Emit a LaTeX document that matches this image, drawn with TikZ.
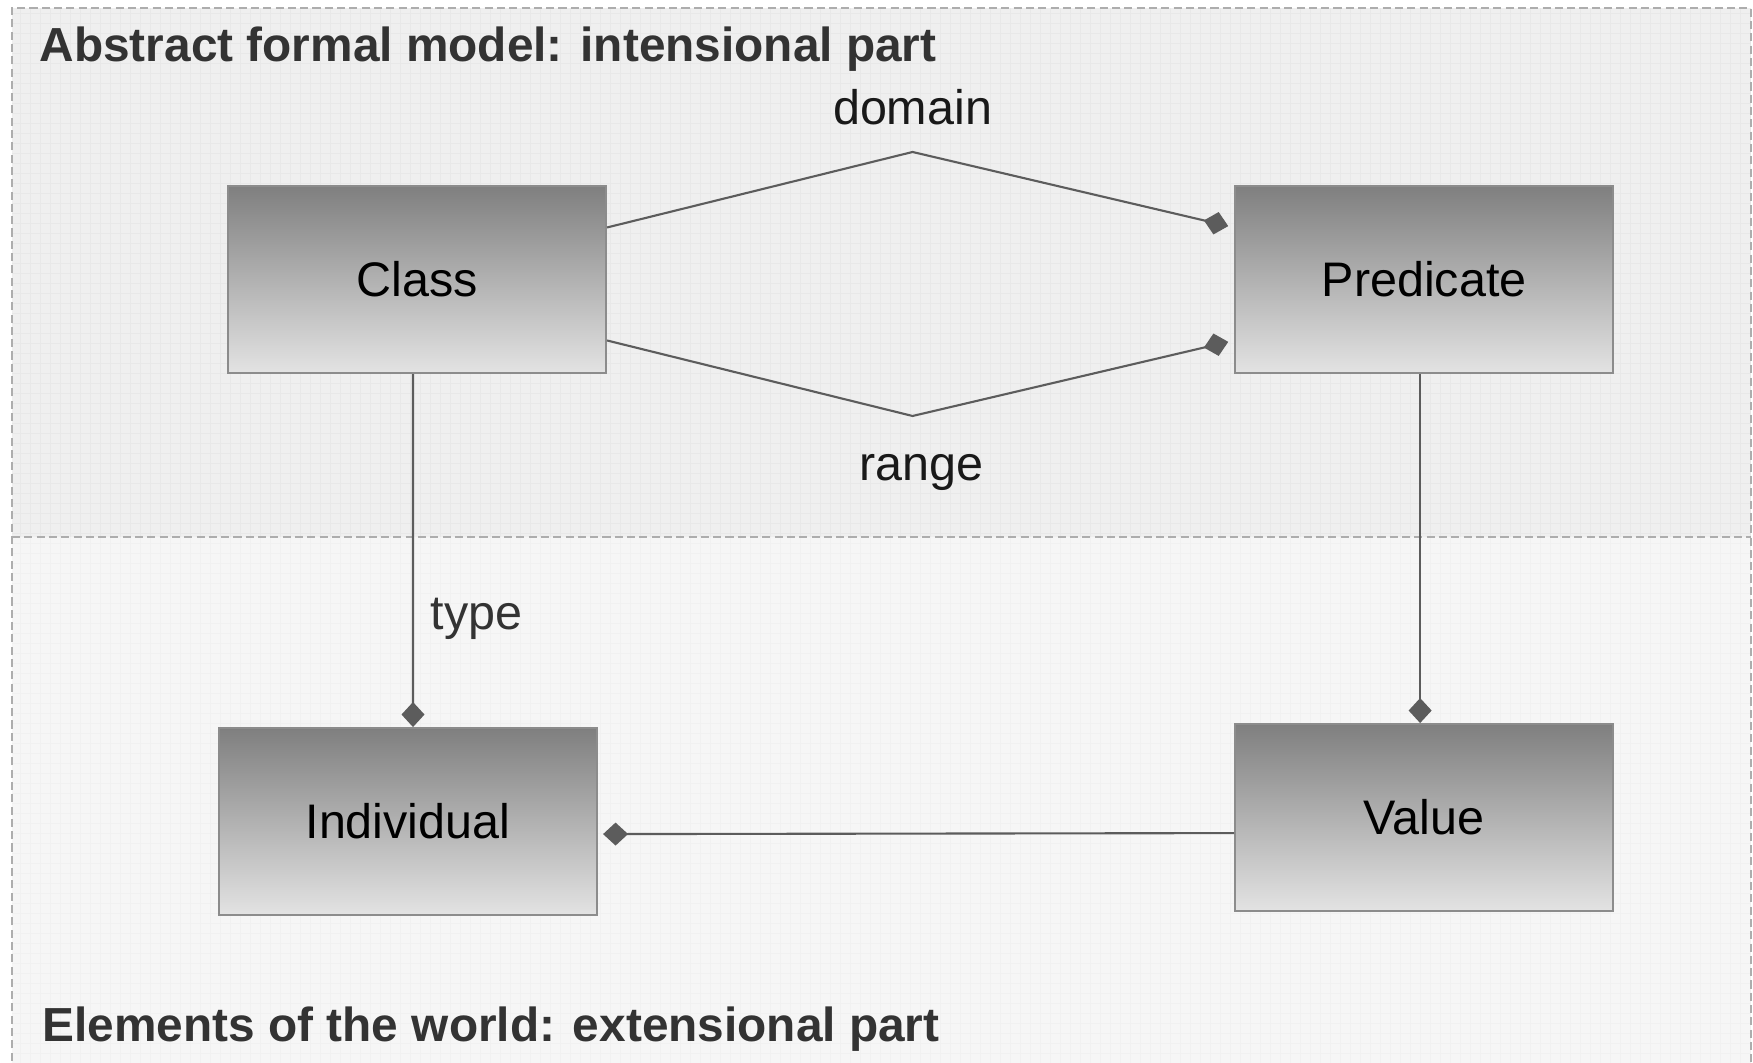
\documentclass[tikz,border=0pt]{standalone}
\usepackage{fontspec}
\setmainfont{Liberation Sans}
\usetikzlibrary{arrows.meta, positioning, calc}

\definecolor{boxtop}{HTML}{7F7F7F}
\definecolor{boxbottom}{HTML}{E3E3E3}
\definecolor{boxedge}{HTML}{8C8C8C}
\definecolor{linkgray}{HTML}{5C5C5C}
\definecolor{upperfill}{HTML}{EFEFEF}
\definecolor{lowerfill}{HTML}{F6F6F6}
\definecolor{uppergrid}{HTML}{E8E8E8}
\definecolor{lowergrid}{HTML}{F1F1F1}
\definecolor{framegray}{HTML}{ADADAD}
\definecolor{titlegray}{HTML}{333333}

\begin{document}
\begin{tikzpicture}
    [
        concept/.style={rectangle, draw=boxedge, line width=0.6pt, top color=boxtop, bottom color=boxbottom, minimum width=3.78cm, minimum height=1.87cm, font=\fontsize{13.8}{16}\selectfont, text=black},
        link/.style={draw=linkgray, line width=0.6pt},
        has/.style={-{Diamond[length=2.5mm, width=2.3mm]}, linkgray},
        role/.style={font=\fontsize{13.8}{16}\selectfont, text=black!90},
        part/.style={font=\bfseries\fontsize{13.6}{16}\selectfont, text=titlegray, anchor=base west, inner sep=0pt},
        region/.style={draw=framegray, line width=0.45pt, dash pattern=on 2.3pt off 1.2pt},
    ]
    \useasboundingbox (0,0) rectangle (17.53,10.63);

    % intensional and extensional parts
    \fill[upperfill] (0.12,5.26) rectangle (17.51,10.55);
    \fill[lowerfill] (0.12,-0.1) rectangle (17.51,5.26);
    \draw[uppergrid, line width=0.2pt, step=0.1] (0.12,5.26) grid (17.51,10.55);
    \draw[lowergrid, line width=0.2pt, step=0.1] (0.12,0) grid (17.51,5.26);
    \draw[region] (0.12,-0.1) rectangle (17.51,10.55);
    \draw[region] (0.12,5.26) -- (17.51,5.26);

    \node[part] (intensional) at (0.39,10.015) {Abstract formal model: intensional part};
    \node[part] (extensional) at (0.42,0.21) {Elements of the world: extensional part};

    \node[concept] (class) at (4.17,7.835) {Class};
    \node[concept] (predicate) [right=6.27cm of class] {Predicate};
    \node[concept] (individual) [below=3.53cm of class, xshift=-0.09cm] {Individual};
    \node[concept] (value) [below=3.49cm of predicate] {Value};

    \coordinate (domain top) at ($(class.east)!0.5!(predicate.west) + (-0.08,1.275)$);
    \coordinate (range bottom) at ($(class.east)!0.5!(predicate.west) + (-0.08,-1.365)$);

    \draw[link, has, shorten >=0.6mm] ([yshift=5.2mm]class.east) -- (domain top) -- ([yshift=5.2mm]predicate.west);
    \draw[link, has, shorten >=0.6mm] ([yshift=-6.1mm]class.east) -- (range bottom) -- ([yshift=-6.1mm]predicate.west);
    \node[role, above=1.45mm] (domain) at (domain top) {domain};
    \node[role, below=2.6mm, xshift=0.9mm] (range) at (range bottom) {range};

    \draw[link, has] ([xshift=-0.4mm]class.south) -- node[role, pos=0.693, right, xshift=0.5mm, text=titlegray] (type) {type} ([xshift=0.5mm]individual.north);
    \draw[link, has] ([xshift=-0.4mm]predicate.south) -- ([xshift=-0.4mm]value.north);
    \draw[link, has, shorten >=0.5mm] ([yshift=-1.55mm]value.west) -- ([yshift=-1.25mm]individual.east);
\end{tikzpicture}
\end{document}
